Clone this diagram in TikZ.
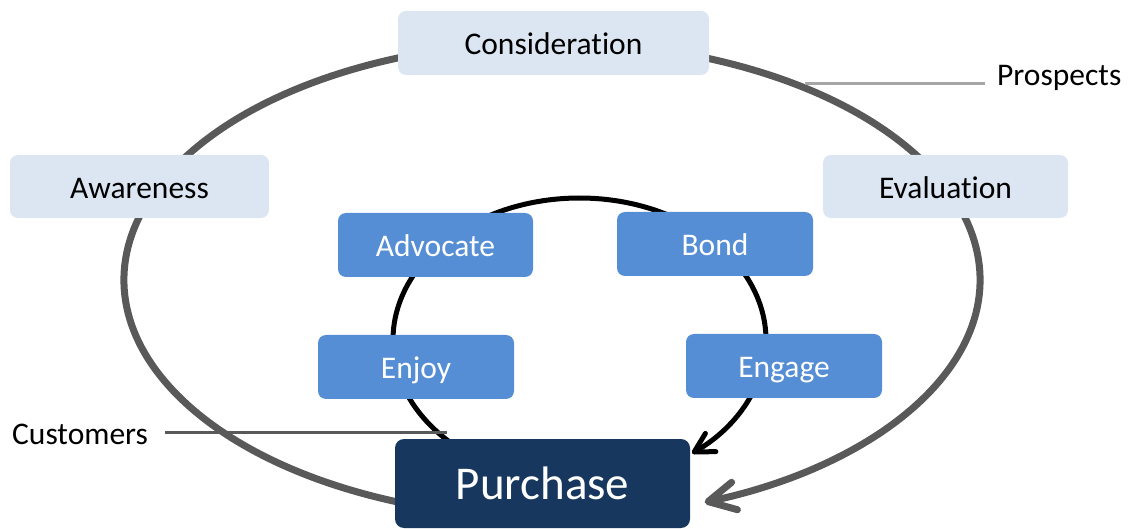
\documentclass[tikz,border=0pt]{standalone}
\usepackage{fontspec}
\setmainfont{Carlito}[Ligatures=NoCommon]
\usetikzlibrary{arrows.meta}

\definecolor{paleblue}{HTML}{DCE6F2}
\definecolor{midblue}{HTML}{558ED5}
\definecolor{navy}{HTML}{17375E}
\definecolor{ringgray}{HTML}{595959}
\definecolor{leadgray}{HTML}{A6A6A6}

\tikzset{
  stagebox/.style={rectangle, rounded corners=8pt, fill=paleblue, text=black,
    minimum height=63pt, inner sep=0pt, text height=24pt, text depth=0pt,
    font=\fontsize{31.5}{36}\selectfont},
  loopbox/.style={rectangle, rounded corners=8pt, fill=midblue, text=white,
    minimum width=196pt, minimum height=64pt, inner sep=0pt,
    text height=24pt, text depth=0pt, font=\fontsize{31.5}{36}\selectfont},
  buybox/.style={rectangle, rounded corners=9pt, fill=navy, text=white,
    minimum width=295pt, minimum height=89pt, inner sep=0pt,
    text height=31pt, text depth=0pt, font=\fontsize{47}{52}\selectfont},
  tag/.style={anchor=west, inner sep=0pt, text=black,
    font=\fontsize{31.5}{36}\selectfont},
  outerring/.style={draw=ringgray, line width=7pt,
    -{Straight Barb[length=27pt,width=28pt,line cap=round,line join=round]}},
  innerring/.style={draw=black, line width=5pt,
    -{Straight Barb[length=19pt,width=21pt,line cap=round,line join=round]}},
  leader/.style={line width=3pt}
}

\begin{document}
\begin{tikzpicture}[x=1pt,y=1pt]
\useasboundingbox (0,0) rectangle (1128,-529);

% centres of the two loops
\coordinate (oc) at (552,-280);
\coordinate (ic) at (579.5,-340);

% prospects loop
\path (oc) ++(249.2:428 and 238) coordinate (outerStart);
\draw[outerring] (outerStart)
  arc[start angle=249.2, end angle=-69.1, x radius=428, y radius=238];

% customer loop
\path (ic) ++(228:186.5 and 142) coordinate (innerStart);
\draw[innerring] (innerStart)
  arc[start angle=228, end angle=-52.9, x radius=186.5, y radius=142];

% labels and their leader lines
\node[tag] (prospects) at (997,-78) {Prospects};
\node[tag] (customers) at (12,-434) {Customers};
\coordinate (prospectsFoot) at (805,-84);
\coordinate (customersFoot) at (447,-433);
\draw[leader, leadgray] (prospectsFoot) -- ([xshift=-12pt]prospects.west |- prospectsFoot);
\draw[leader, ringgray] ([xshift=17pt]customers.east |- customersFoot) -- (customersFoot);

% outer stages
\node[stagebox, minimum width=311pt, minimum height=64pt] (consideration) at (553.5,-43) {Consideration};
\node[stagebox, minimum width=259pt] (awareness) at (139.5,-186.5) {Awareness};
\node[stagebox, minimum width=245pt] (evaluation) at (945.5,-186.5) {Evaluation};

% inner stages
\node[loopbox, minimum width=195pt] (advocate) at (435.5,-245) {Advocate};
\node[loopbox] (bond) at (715,-244) {Bond};
\node[loopbox] (enjoy) at (416,-367) {Enjoy};
\node[loopbox] (engage) at (784,-366) {Engage};

% purchase
\node[buybox] (purchase) at (542.5,-483.5) {Purchase};
\end{tikzpicture}
\end{document}
